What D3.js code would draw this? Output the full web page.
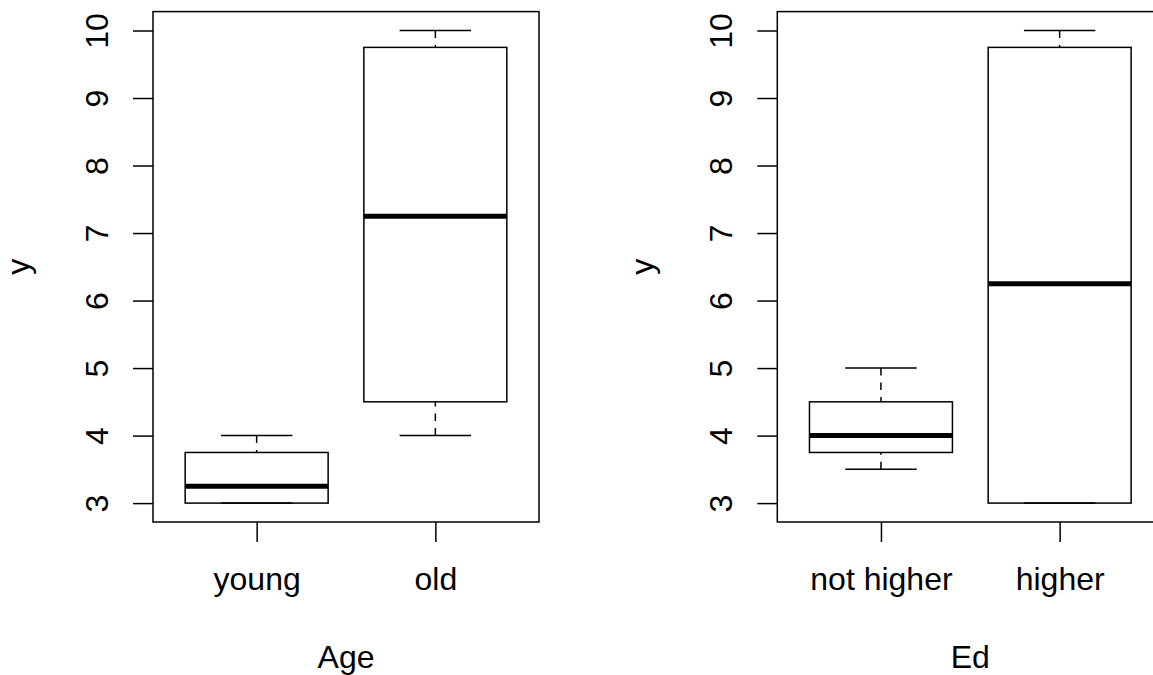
<!DOCTYPE html>
<html>
<head>
<meta charset="utf-8">
<script src="https://cdn.jsdelivr.net/npm/d3@7"></script>
<style>
  html, body { margin: 0; background: #fff; overflow: hidden; width: 1153px; height: 675px; }
  svg { display: block; overflow: hidden; font-family: "Liberation Sans", Arial, Helvetica, sans-serif; }
</style>
</head>
<body>
<svg width="1153" height="675"></svg>
<script>
// data - y by Age
const ageGroups = ["young", "old"];
const ageLow = [3, 4];
const ageQ1 = [3, 4.5];
const ageMedian = [3.25, 7.25];
const ageQ3 = [3.75, 9.75];
const ageHigh = [4, 10];

// data - y by Ed
const edGroups = ["not higher", "higher"];
const edLow = [3.5, 3];
const edQ1 = [3.75, 3];
const edMedian = [4, 6.25];
const edQ3 = [4.5, 9.75];
const edHigh = [5, 10];

const yTicks = [3, 4, 5, 6, 7, 8, 9, 10];

// dimensions (plot region of each panel, right one runs off the page like the original)
const plotTop = 11.6, plotBottom = 522;
const plotWidth = 386;
const fontSize = 32;
const lw = 1.5;

const svg = d3.select("svg");

// keep everything inside the page
svg.append("defs").append("clipPath")
    .attr("id", "page")
    .append("rect")
    .attr("width", 1153).attr("height", 675);
const root = svg.append("g").attr("clip-path", "url(#page)");

const panels = [
  {left: 153, title: "Age", groups: ageGroups, lo: ageLow, q1: ageQ1, med: ageMedian, q3: ageQ3, hi: ageHigh},
  {left: 777.3, title: "Ed", groups: edGroups, lo: edLow, q1: edQ1, med: edMedian, q3: edQ3, hi: edHigh}
];

// shared y range, R style 4% padding
const yMin = d3.min(panels, p => d3.min(p.lo));
const yMax = d3.max(panels, p => d3.max(p.hi));
const yPad = (yMax - yMin) * 0.04;
const y = d3.scaleLinear()
    .domain([yMin - yPad, yMax + yPad])
    .range([plotBottom, plotTop]);

panels.forEach(p => {
    const n = p.groups.length;
    const x = d3.scaleLinear()
        .domain([0.5 - 0.04 * n, n + 0.5 + 0.04 * n])
        .range([0, plotWidth]);

    const g = root.append("g")
        .attr("transform", `translate(${p.left},0)`);

    const stats = p.groups.map((name, i) => ({
        name: name, pos: i + 1,
        lo: p.lo[i], q1: p.q1[i], med: p.med[i], q3: p.q3[i], hi: p.hi[i]
    }));

    const boxW = x(1.4) - x(1);   // half box width (box width 0.8)
    const capW = boxW / 2;

    // whiskers (dashed, drawn from the ends toward the box)
    g.selectAll(".whisk-lo")
        .data(stats)
        .enter().append("line")
        .attr("x1", d => x(d.pos)).attr("x2", d => x(d.pos))
        .attr("y1", d => y(d.lo)).attr("y2", d => y(d.q1))
        .attr("stroke", "#000").attr("stroke-width", lw)
        .attr("stroke-dasharray", "7.5,7");

    g.selectAll(".whisk-hi")
        .data(stats)
        .enter().append("line")
        .attr("x1", d => x(d.pos)).attr("x2", d => x(d.pos))
        .attr("y1", d => y(d.hi)).attr("y2", d => y(d.q3))
        .attr("stroke", "#000").attr("stroke-width", lw)
        .attr("stroke-dasharray", "7.5,7");

    // staples
    ["lo", "hi"].forEach(k => {
        g.selectAll(".cap-" + k)
            .data(stats)
            .enter().append("line")
            .attr("x1", d => x(d.pos) - capW).attr("x2", d => x(d.pos) + capW)
            .attr("y1", d => y(d[k])).attr("y2", d => y(d[k]))
            .attr("stroke", "#000").attr("stroke-width", lw);
    });

    // boxes
    g.selectAll(".box")
        .data(stats)
        .enter().append("rect")
        .attr("x", d => x(d.pos) - boxW)
        .attr("y", d => y(d.q3))
        .attr("width", boxW * 2)
        .attr("height", d => y(d.q1) - y(d.q3))
        .attr("fill", "none")
        .attr("stroke", "#000").attr("stroke-width", lw);

    // medians
    g.selectAll(".median")
        .data(stats)
        .enter().append("line")
        .attr("x1", d => x(d.pos) - boxW).attr("x2", d => x(d.pos) + boxW)
        .attr("y1", d => y(d.med)).attr("y2", d => y(d.med))
        .attr("stroke", "#000").attr("stroke-width", 5);

    // frame
    g.append("rect")
        .attr("x", 0).attr("y", plotTop)
        .attr("width", plotWidth).attr("height", plotBottom - plotTop)
        .attr("fill", "none")
        .attr("stroke", "#000").attr("stroke-width", lw);

    // x axis
    const xAxis = g.append("g")
        .attr("transform", `translate(0,${plotBottom})`)
        .call(d3.axisBottom(x)
            .tickValues(stats.map(d => d.pos))
            .tickFormat((v, i) => p.groups[i])
            .tickSize(20));
    xAxis.select(".domain").remove();
    xAxis.attr("font-size", fontSize).attr("font-family", null);
    xAxis.selectAll("line").attr("stroke-width", lw);
    xAxis.selectAll("text")
        .attr("y", 68).attr("dy", null)
        .attr("fill", "#000");

    // y axis
    const yAxis = g.append("g")
        .call(d3.axisLeft(y).tickValues(yTicks).tickSize(20));
    yAxis.select(".domain").remove();
    yAxis.attr("font-size", fontSize).attr("font-family", null);
    yAxis.selectAll("line").attr("stroke-width", lw);
    yAxis.selectAll("text")
        .attr("x", 0).attr("y", -45).attr("dy", null)
        .attr("transform", "rotate(-90)")
        .attr("text-anchor", "middle")
        .attr("fill", "#000");

    // axis labels
    g.append("text")
        .attr("x", plotWidth / 2)
        .attr("y", 668)
        .attr("text-anchor", "middle")
        .attr("font-size", fontSize)
        .text(p.title);

    g.append("text")
        .attr("transform", `translate(-124,${(plotTop + plotBottom) / 2}) rotate(-90)`)
        .attr("text-anchor", "middle")
        .attr("font-size", fontSize)
        .text("y");
});
</script>
</body>
</html>
